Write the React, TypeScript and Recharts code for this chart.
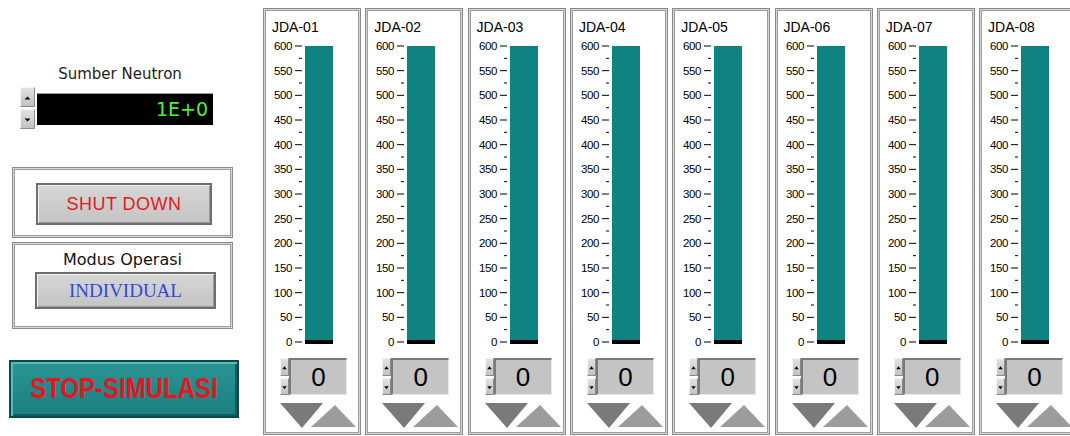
import React from 'react';
import { BarChart, Bar, XAxis, YAxis, ReferenceLine } from 'recharts';

// channel names, rod positions and the scale of each meter
const channels = ['JDA-01', 'JDA-02', 'JDA-03', 'JDA-04', 'JDA-05', 'JDA-06', 'JDA-07', 'JDA-08'];
const rodValues = [0, 0, 0, 0, 0, 0, 0, 0];
const axisMax = 600;
const axisTicks = [0, 25, 50, 75, 100, 125, 150, 175, 200, 225, 250, 275, 300, 325, 350, 375, 400, 425, 450, 475, 500, 525, 550, 575, 600];
const neutronSource = '1E+0';

const TEAL = '#0f8282';
const LABEL_FONT = '"Liberation Sans", Arial, sans-serif';
const UI_FONT = '"DejaVu Sans", Verdana, sans-serif';

const MeterTick = (props: any) => {
  const { x, y, payload } = props;
  const v = payload.value as number;
  const major = v % 50 === 0;
  return (
    <g>
      <line x1={major ? x - 10 : x - 6} x2={x - 3} y1={y} y2={y} stroke="#000" strokeWidth={1} />
      {major && (
        <text
          x={x - 13}
          y={y}
          textAnchor="end"
          dominantBaseline="central"
          fontSize={11.5}
          letterSpacing={-0.4}
          fontFamily={LABEL_FONT}
          fill="#000"
        >
          {v}
        </text>
      )}
    </g>
  );
};

const frame: React.CSSProperties = {
  position: 'absolute',
  boxSizing: 'border-box',
  border: '1px solid #8a8a8a',
  boxShadow: 'inset 0 0 0 1px #d6d6d6, inset 0 0 0 2px #9c9c9c',
  background: '#fff',
};

function Spinner({ left, top, w, h }: { left: number; top: number; w: number; h: number }) {
  const half = h / 2;
  const btn: React.CSSProperties = {
    position: 'absolute',
    left: 0,
    width: '100%',
    height: half - 1,
    boxSizing: 'border-box',
    background: 'linear-gradient(#e2e2e2, #c2c2c2)',
    borderTop: '1px solid #f4f4f4',
    borderLeft: '1px solid #f4f4f4',
    borderRight: '1px solid #8a8a8a',
    borderBottom: '1px solid #8a8a8a',
  };
  const cx = (w - 2) / 2;
  const a = Math.min(3, w / 4);
  return (
    <div style={{ position: 'absolute', left, top, width: w, height: h }}>
      <div style={{ ...btn, top: 0 }}>
        <svg width={w - 2} height={half - 3} style={{ position: 'absolute', left: 0, top: 0 }}>
          <polygon points={`${cx - a},${half / 2 + 1} ${cx + a},${half / 2 + 1} ${cx},${half / 2 - 2}`} fill="#000" />
        </svg>
      </div>
      <div style={{ ...btn, top: half + 1 }}>
        <svg width={w - 2} height={half - 3} style={{ position: 'absolute', left: 0, top: 0 }}>
          <polygon points={`${cx - a},${half / 2 - 2} ${cx + a},${half / 2 - 2} ${cx},${half / 2 + 1}`} fill="#000" />
        </svg>
      </div>
    </div>
  );
}

function RodPanel({ index }: { index: number }) {
  const left = 263 + index * 102.3;
  const name = channels[index];
  const value = rodValues[index];
  const data = [{ name, value, span: axisMax }];
  return (
    <>
      <div style={{ ...frame, left, top: 8, width: 98, height: 427 }} />
      <div
        style={{
          position: 'absolute',
          left: left + 9,
          top: 19,
          fontFamily: LABEL_FONT,
          fontSize: 14,
          color: '#000',
          lineHeight: '16px',
        }}
      >
        {name}
      </div>
      <div style={{ position: 'absolute', left, top: 40 }}>
        <BarChart
          width={80}
          height={310}
          data={data}
          margin={{ top: 6, right: 10, bottom: 8, left: 0 }}
          barCategoryGap={0}
        >
          <XAxis dataKey="name" hide />
          <YAxis
            domain={[0, axisMax]}
            ticks={axisTicks}
            interval={0}
            width={42}
            tickSize={0}
            tickMargin={0}
            axisLine={false}
            tickLine={false}
            tick={<MeterTick />}
          />
          <Bar dataKey="span" fill={TEAL} isAnimationActive={false} />
          <ReferenceLine y={value} stroke="#000" strokeWidth={4} />
        </BarChart>
      </div>
      <Spinner left={left + 17} top={358} w={9} h={37} />
      <div
        style={{
          position: 'absolute',
          left: left + 26,
          top: 358,
          width: 58,
          height: 37,
          boxSizing: 'border-box',
          background: '#c4c4c4',
          borderTop: '2px solid #7a7a7a',
          borderLeft: '2px solid #7a7a7a',
          borderRight: '1px solid #e8e8e8',
          borderBottom: '1px solid #e8e8e8',
          fontFamily: LABEL_FONT,
          fontSize: 26,
          lineHeight: '34px',
          textAlign: 'center',
          color: '#000',
        }}
      >
        {value}
      </div>
      <svg style={{ position: 'absolute', left, top: 400 }} width={98} height={32}>
        <polygon points="17,3 60,3 39,28" fill="#7a7a7a" />
        <polygon points="72,5 48,27 93,27" fill="#9c9c9c" />
      </svg>
    </>
  );
}

export default function App() {
  return (
    <div
      style={{
        position: 'absolute',
        left: 0,
        top: 0,
        width: 1070,
        height: 436,
        background: '#fff',
        overflow: 'hidden',
      }}
    >
      {/* neutron source indicator */}
      <div
        style={{
          position: 'absolute',
          left: 20,
          width: 200,
          top: 64,
          textAlign: 'center',
          fontFamily: UI_FONT,
          fontSize: 15,
          lineHeight: '20px',
          color: '#222',
        }}
      >
        Sumber Neutron
      </div>
      <Spinner left={20} top={87} w={15} h={42} />
      <div
        style={{
          position: 'absolute',
          left: 37,
          top: 93,
          width: 176,
          height: 32,
          background: '#000',
          borderTop: '1px solid #9a9a9a',
          boxSizing: 'border-box',
          color: '#4cf03a',
          fontFamily: UI_FONT,
          fontSize: 19,
          lineHeight: '30px',
          textAlign: 'right',
          paddingRight: 5,
        }}
      >
        {neutronSource}
      </div>

      {/* shut down */}
      <div style={{ ...frame, left: 12, top: 167, width: 221, height: 71 }} />
      <div
        style={{
          position: 'absolute',
          left: 36,
          top: 183,
          width: 176,
          height: 42,
          boxSizing: 'border-box',
          background: 'linear-gradient(#d6d6d6, #c4c4c4)',
          border: '2px solid #6e6e6e',
          boxShadow: 'inset 1px 1px 0 #f2f2f2, inset -1px -1px 0 #9a9a9a',
          color: '#e41b1b',
          fontFamily: LABEL_FONT,
          fontSize: 18,
          lineHeight: '38px',
          textAlign: 'center',
          letterSpacing: 0.5,
        }}
      >
        SHUT DOWN
      </div>

      {/* operating mode */}
      <div style={{ ...frame, left: 12, top: 242, width: 221, height: 87 }} />
      <div
        style={{
          position: 'absolute',
          left: 12,
          width: 221,
          top: 250,
          textAlign: 'center',
          fontFamily: UI_FONT,
          fontSize: 16,
          lineHeight: '20px',
          color: '#111',
        }}
      >
        Modus Operasi
      </div>
      <div
        style={{
          position: 'absolute',
          left: 35,
          top: 272,
          width: 181,
          height: 37,
          boxSizing: 'border-box',
          background: 'linear-gradient(#d6d6d6, #c4c4c4)',
          border: '2px solid #6e6e6e',
          boxShadow: 'inset 1px 1px 0 #f2f2f2, inset -1px -1px 0 #9a9a9a',
          color: '#3446e4',
          fontFamily: '"Liberation Serif", "Times New Roman", serif',
          fontSize: 19,
          lineHeight: '33px',
          textAlign: 'center',
        }}
      >
        INDIVIDUAL
      </div>

      {/* stop simulation */}
      <div
        style={{
          position: 'absolute',
          left: 9,
          top: 360,
          width: 230,
          height: 58,
          boxSizing: 'border-box',
          background: 'linear-gradient(#2a9494, #1a7f80)',
          border: '2px solid #0b4a4c',
          boxShadow: 'inset 2px 2px 0 #5fb8b8, inset -2px -2px 0 #0f5e60',
        }}
      >
        <div
          style={{
            position: 'absolute',
            left: 0,
            width: '100%',
            top: 14,
            textAlign: 'center',
            color: '#e8141e',
            fontFamily: LABEL_FONT,
            fontWeight: 'bold',
            fontSize: 24,
            lineHeight: '24px',
            transform: 'scaleY(1.2)',
          }}
        >
          STOP-SIMULASI
        </div>
      </div>

      {channels.map((_, i) => (
        <RodPanel key={i} index={i} />
      ))}
    </div>
  );
}
